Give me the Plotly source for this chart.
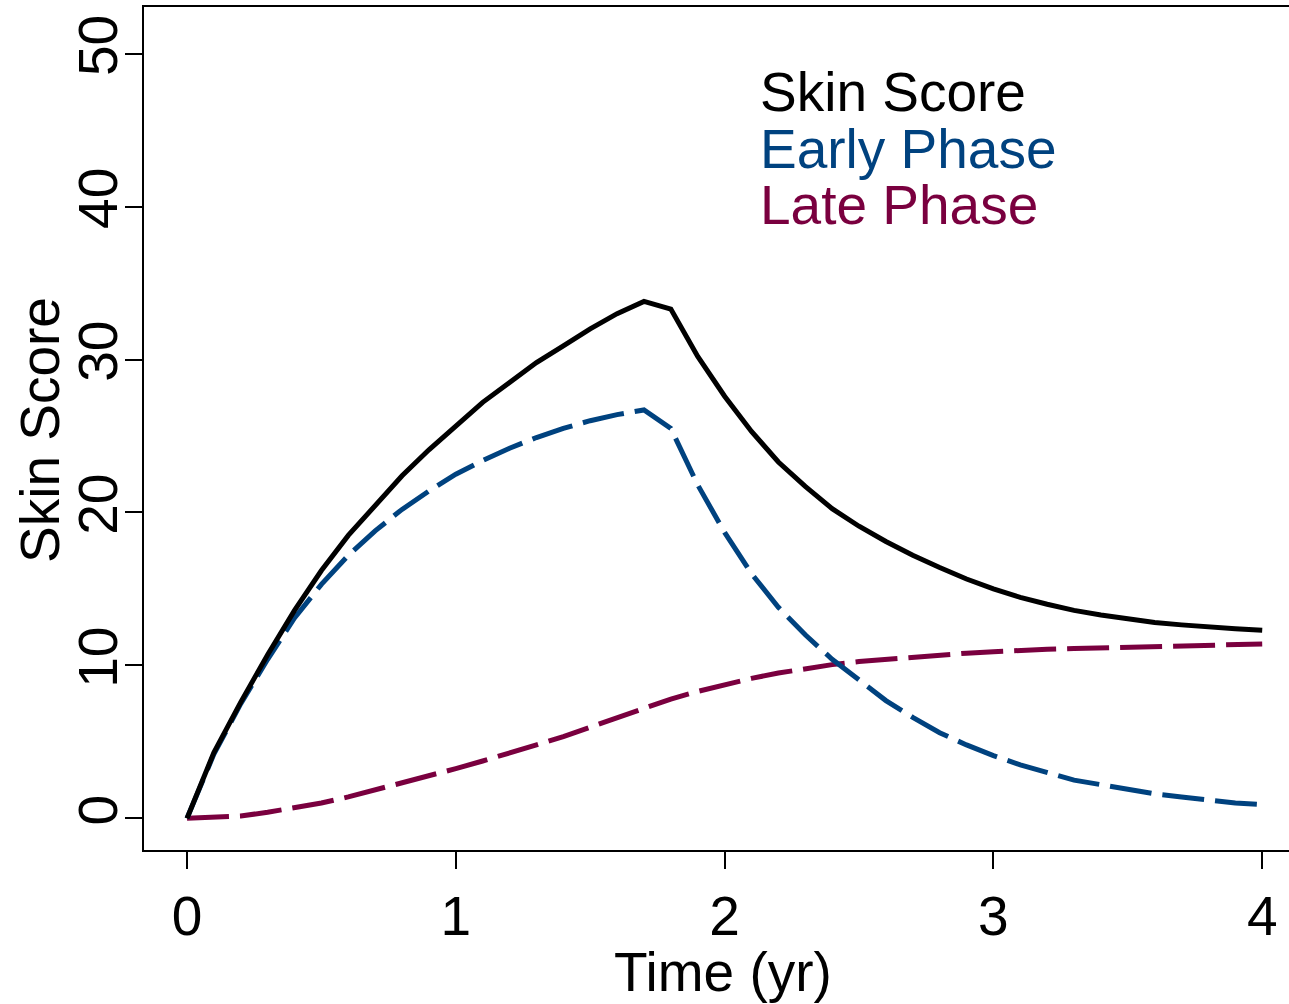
import plotly.graph_objects as go

# ---- data ----
time_yr = [0.0, 0.1, 0.2, 0.3, 0.4, 0.5, 0.6, 0.7, 0.8, 0.9,
           1.0, 1.1, 1.2, 1.3, 1.4, 1.5, 1.6, 1.7, 1.8, 1.9,
           2.0, 2.1, 2.2, 2.3, 2.4, 2.5, 2.6, 2.7, 2.8, 2.9,
           3.0, 3.1, 3.2, 3.3, 3.4, 3.5, 3.6, 3.7, 3.8, 3.9, 4.0]

skin_score = [0.0, 4.3, 7.6, 10.7, 13.6, 16.2, 18.5, 20.5, 22.4, 24.1,
              25.7, 27.2, 28.5, 29.8, 30.9, 32.0, 33.0, 33.8, 33.3, 30.2,
              27.6, 25.3, 23.3, 21.7, 20.25, 19.1, 18.1, 17.2, 16.4, 15.65,
              15.0, 14.45, 14.0, 13.6, 13.3, 13.05, 12.8, 12.65, 12.5, 12.4, 12.3]

early_phase = [0.0, 4.2, 7.5, 10.4, 13.1, 15.3, 17.2, 18.8, 20.2, 21.4,
               22.5, 23.4, 24.2, 24.9, 25.5, 26.0, 26.4, 26.7, 25.5, 21.8,
               18.7, 16.0, 13.8, 12.0, 10.4, 9.0, 7.7, 6.6, 5.6, 4.8,
               4.1, 3.5, 3.0, 2.5, 2.2, 1.9, 1.6, 1.4, 1.2, 1.0, 0.9]

late_phase = [0.0, 0.05, 0.15, 0.4, 0.7, 1.0, 1.4, 1.85, 2.3, 2.8,
              3.25, 3.75, 4.25, 4.8, 5.35, 5.95, 6.6, 7.2, 7.8, 8.3,
              8.75, 9.15, 9.5, 9.8, 10.05, 10.25, 10.4, 10.55, 10.7, 10.8,
              10.9, 11.0, 11.05, 11.1, 11.15, 11.2, 11.25, 11.3, 11.33, 11.37, 11.4]

x_ticks = [0, 1, 2, 3, 4]
y_ticks = [0, 10, 20, 30, 40, 50]

legend_labels = ["Skin Score", "Early Phase", "Late Phase"]

BLACK = "#000000"
BLUE = "#00427f"
MAROON = "#7a003f"
FONT = "Liberation Sans, Arial, sans-serif"

fig = go.Figure()
fig.add_trace(go.Scatter(x=time_yr, y=late_phase, mode="lines",
                         line=dict(color=MAROON, width=5, dash="42px,11px"),
                         name=legend_labels[2]))
fig.add_trace(go.Scatter(x=time_yr, y=early_phase, mode="lines",
                         line=dict(color=BLUE, width=5, dash="42px,11px"),
                         name=legend_labels[1]))
fig.add_trace(go.Scatter(x=time_yr, y=skin_score, mode="lines",
                         line=dict(color=BLACK, width=5),
                         name=legend_labels[0]))

W, H = 1289, 1004
L, R, T, B = 144, 0, 7, 154
pw, ph = W - L - R, H - T - B

def px_x(px):
    return (px - L) / pw

def px_y(py):
    return (H - B - py) / ph

annotations = []
for label, color, py in zip(legend_labels, [BLACK, BLUE, MAROON], [92, 149, 205]):
    annotations.append(dict(text=label, x=px_x(758), y=px_y(py), xref="paper", yref="paper",
                            xanchor="left", yanchor="middle", showarrow=False,
                            font=dict(family=FONT, size=55, color=color)))
annotations.append(dict(text="Time (yr)", x=px_x(723), y=px_y(972), xref="paper", yref="paper",
                        xanchor="center", yanchor="middle", showarrow=False,
                        font=dict(family=FONT, size=55, color=BLACK)))
annotations.append(dict(text="Skin Score", x=px_x(40), y=px_y(430), xref="paper", yref="paper",
                        xanchor="center", yanchor="middle", showarrow=False, textangle=-90,
                        font=dict(family=FONT, size=55, color=BLACK)))

fig.update_layout(
    width=W, height=H,
    margin=dict(l=L, r=R, t=T, b=B, pad=0),
    paper_bgcolor="white", plot_bgcolor="white",
    showlegend=False,
    font=dict(family=FONT, size=55, color=BLACK),
    annotations=annotations,
    xaxis=dict(range=[-0.16, -0.16 + pw / 268.8], tickvals=x_ticks,
               ticks="outside", ticklen=17, tickwidth=1.5, tickcolor=BLACK,
               showline=True, mirror=True, linecolor=BLACK, linewidth=1.5,
               showgrid=False, zeroline=False,
               tickfont=dict(family=FONT, size=55, color=BLACK)),
    yaxis=dict(range=[-2.07, 53.05], tickvals=y_ticks, tickangle=-90,
               ticks="outside", ticklen=17, tickwidth=1.5, tickcolor=BLACK,
               ticklabelstandoff=-14,
               showline=True, linecolor=BLACK, linewidth=1.5,
               showgrid=False, zeroline=False,
               tickfont=dict(family=FONT, size=55, color=BLACK)),
)

fig.write_html("out.html")
